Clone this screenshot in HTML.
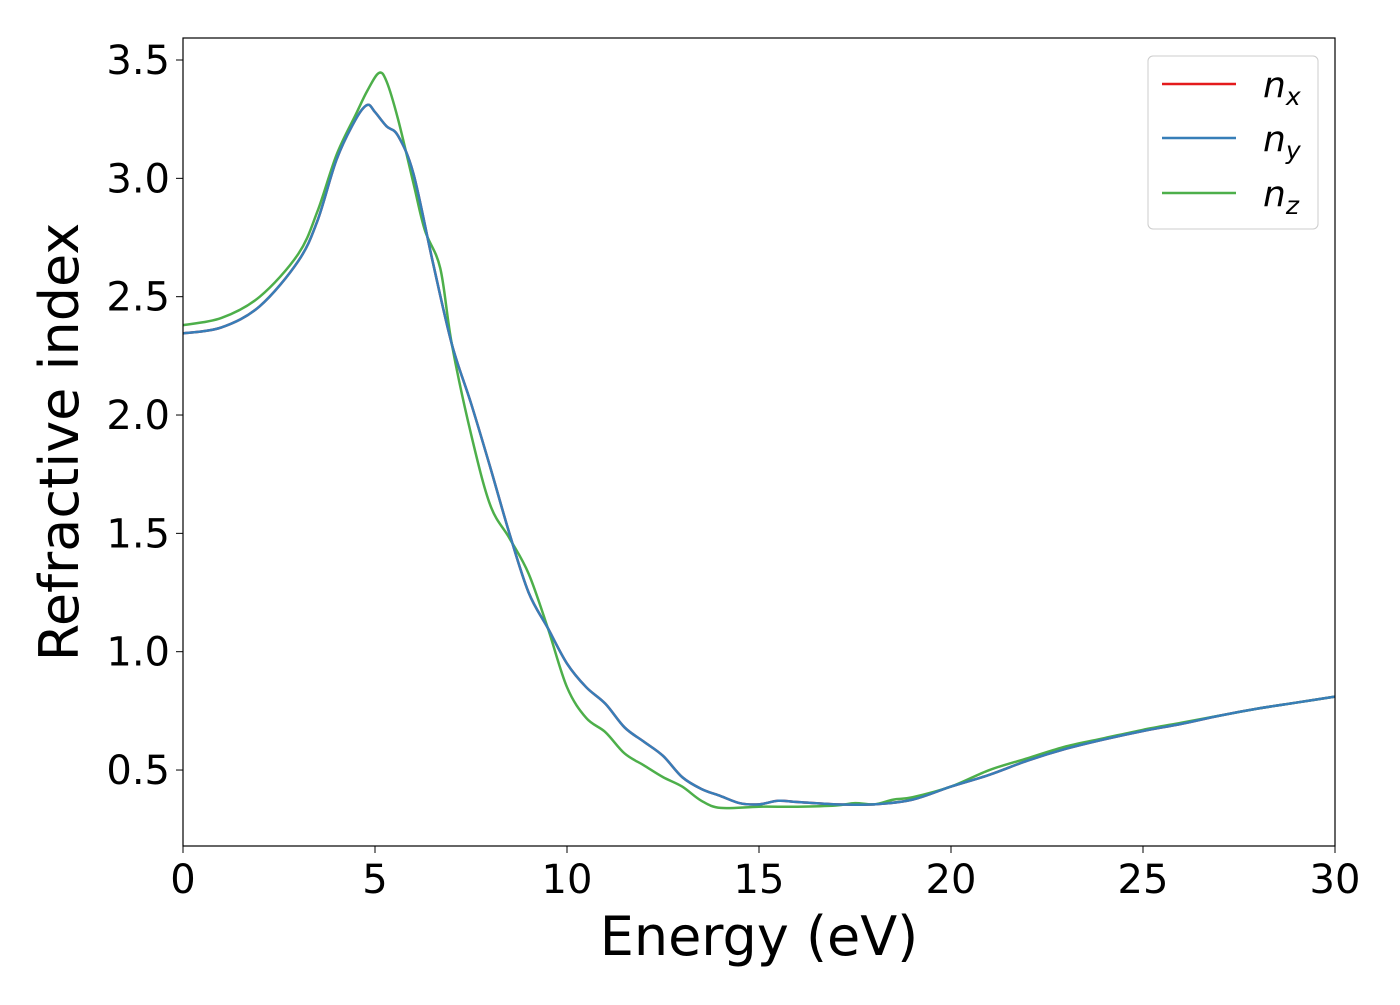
<!DOCTYPE html>
<html><head><meta charset="utf-8"><style>
body{margin:0;background:#fff}
svg text{font-family:"DejaVu Sans","Liberation Sans",sans-serif;fill:#000}
</style></head><body>
<svg id="chart" width="1400" height="1000" viewBox="0 0 1400 1000" xmlns="http://www.w3.org/2000/svg">
<g id="ticks"></g>
<g id="series"></g>
<rect x="183" y="38" width="1152" height="808" fill="none" stroke="#000" stroke-width="1.2"/>
<text x="759" y="955" font-size="54" text-anchor="middle">Energy (eV)</text>
<text transform="translate(78,442) rotate(-90)" font-size="54" text-anchor="middle">Refractive index</text>
<g>
<rect x="1148" y="56" width="170" height="173" rx="5" fill="#fff" stroke="#ccc" stroke-width="1"/>
<g><line x1="1162" y1="84" x2="1236" y2="84" stroke="#e41a1c" stroke-width="2.5"/><text x="1263" y="97" font-size="36" font-style="italic">n<tspan font-size="25" dy="8">x</tspan></text></g>
<g><line x1="1162" y1="138" x2="1236" y2="138" stroke="#377eb8" stroke-width="2.5"/><text x="1263" y="151" font-size="36" font-style="italic">n<tspan font-size="25" dy="8">y</tspan></text></g>
<g><line x1="1162" y1="193" x2="1236" y2="193" stroke="#4daf4a" stroke-width="2.5"/><text x="1263" y="206" font-size="36" font-style="italic">n<tspan font-size="25" dy="8">z</tspan></text></g>
</g>
</svg>
<script>
const xTicks=[0,5,10,15,20,25,30];
const yTicks=[0.5,1.0,1.5,2.0,2.5,3.0,3.5];
const energyXY=[0,1,2,3,3.5,4,4.5,4.8,5.0,5.3,5.6,6.0,6.5,7,7.5,8,8.5,9,9.5,10,10.5,11,11.5,12,12.5,13,13.5,14,14.5,15,15.5,16,17,18,19,20,21,22,23,24,25,26,27,28,29,30];
const nxValues=[2.345,2.37,2.46,2.65,2.82,3.08,3.25,3.31,3.28,3.22,3.18,3.02,2.65,2.3,2.05,1.78,1.5,1.25,1.1,0.95,0.85,0.78,0.68,0.62,0.56,0.47,0.42,0.39,0.36,0.355,0.37,0.365,0.355,0.355,0.375,0.43,0.48,0.54,0.59,0.63,0.665,0.695,0.73,0.76,0.785,0.81];
const nyValues=nxValues.slice();
const energyZ=[0,1,2,3,3.5,4,4.5,4.8,5.1,5.3,5.6,6.0,6.3,6.7,7,7.5,8,8.5,9,9.5,10,10.5,11,11.5,12,12.5,13,13.5,14,15,16,17,17.5,18,18.5,19,20,21,22,23,24,25,26,27,28,29,30];
const nzValues=[2.38,2.41,2.5,2.68,2.86,3.1,3.27,3.37,3.445,3.41,3.25,2.98,2.78,2.62,2.3,1.92,1.62,1.48,1.33,1.1,0.85,0.72,0.66,0.57,0.52,0.47,0.43,0.37,0.34,0.345,0.345,0.35,0.36,0.355,0.375,0.385,0.43,0.5,0.55,0.6,0.635,0.67,0.7,0.73,0.76,0.785,0.81];
const X0=183,X1=1335,Y0=846,Y1=38,xMin=0,xMax=30,yMin=0.179,yMax=3.593;
const sx=v=>X0+(v-xMin)/(xMax-xMin)*(X1-X0);
const sy=v=>Y0-(v-yMin)/(yMax-yMin)*(Y0-Y1);
const NS="http://www.w3.org/2000/svg";
const tg=document.getElementById('ticks');
xTicks.forEach(t=>{
 const l=document.createElementNS(NS,'line');
 l.setAttribute('x1',sx(t));l.setAttribute('x2',sx(t));l.setAttribute('y1',Y0);l.setAttribute('y2',Y0+7);l.setAttribute('stroke','#000');
 
 
 tg.appendChild(l);
 const tx=document.createElementNS(NS,'text');
 tx.setAttribute('x',sx(t));tx.setAttribute('y',893);tx.setAttribute('font-size','40');tx.setAttribute('text-anchor','middle');tx.textContent=t;
 
 
 tg.appendChild(tx);
});
yTicks.forEach(t=>{
 const l=document.createElementNS(NS,'line');
 l.setAttribute('x1',X0-7);l.setAttribute('x2',X0);l.setAttribute('y1',sy(t));l.setAttribute('y2',sy(t));l.setAttribute('stroke','#000');
 
 
 tg.appendChild(l);
 const tx=document.createElementNS(NS,'text');
 tx.setAttribute('x',170);tx.setAttribute('y',sy(t)+14);tx.setAttribute('font-size','40');tx.setAttribute('text-anchor','end');tx.textContent=t.toFixed(1);
 
 
 tg.appendChild(tx);
});
function pathFor(xs,ys){
 const p=xs.map((x,i)=>[sx(x),sy(ys[i])]);
 let d='M'+p[0][0]+','+p[0][1];
 for(let i=0;i<p.length-1;i++){
  const a=p[Math.max(i-1,0)],b=p[i],c=p[i+1],e=p[Math.min(i+2,p.length-1)];
  d+=' C'+(b[0]+(c[0]-a[0])/6)+','+(b[1]+(c[1]-a[1])/6)+' '+(c[0]-(e[0]-b[0])/6)+','+(c[1]-(e[1]-b[1])/6)+' '+c[0]+','+c[1];
 }
 return d;
}
const sg=document.getElementById('series');
[[energyXY,nxValues,'#e41a1c','series-nx'],[energyZ,nzValues,'#4daf4a','series-nz'],[energyXY,nyValues,'#377eb8','series-ny']].forEach(s=>{
 const pa=document.createElementNS(NS,'path');
 pa.setAttribute('d',pathFor(s[0],s[1]));pa.setAttribute('fill','none');pa.setAttribute('stroke',s[2]);pa.setAttribute('stroke-width','2.5');
 
 
 sg.appendChild(pa);
});
</script>
</body></html>
